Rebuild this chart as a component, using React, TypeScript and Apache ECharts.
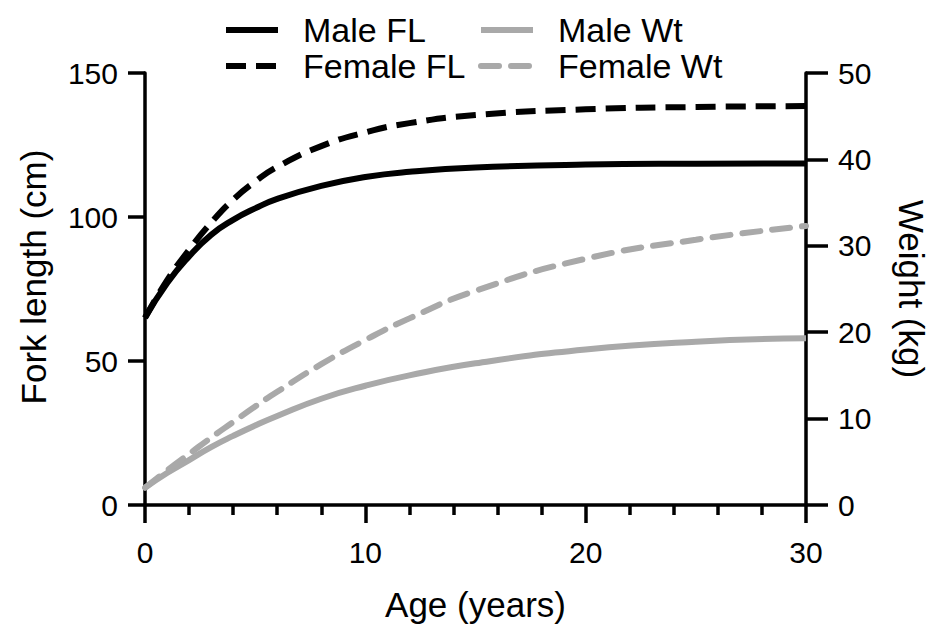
import React, { useEffect, useRef } from "react";
import * as echarts from "echarts";

const ages = [0, 1, 2, 3, 4, 5, 6, 8, 10, 12, 15, 20, 25, 30];
const maleFL = [65, 77, 86.3, 93.8, 99, 103, 106.3, 110.8, 113.9, 115.7, 117.2, 118.2, 118.5, 118.6];
const femaleFL = [65, 78, 88.6, 98, 106, 112.3, 117.4, 124.6, 129.4, 132.6, 135.4, 137.4, 138.2, 138.5];
const maleWt = [2.0, 3.7, 5.2, 6.7, 8.0, 9.2, 10.3, 12.3, 13.8, 15.0, 16.4, 18.0, 18.9, 19.3];
const femaleWt = [2.0, 4.0, 5.9, 7.8, 9.6, 11.4, 13.1, 16.3, 19.1, 21.6, 24.8, 28.5, 30.7, 32.3];

const FONT = "'Liberation Sans', Arial, sans-serif";
const BLACK = "#000000";
const GREY = "#a9a9a9";

const pairs = (ys: number[]) => ages.map((a, i) => [a, ys[i]]);

export default function App() {
  const ref = useRef<HTMLDivElement>(null);
  useEffect(() => {
    if (!ref.current) return;
    const chart = echarts.init(ref.current, undefined, { renderer: "svg" });
    const axisLine = { show: true, onZero: false, lineStyle: { color: BLACK, width: 3.5 } };
    const legendText = { fontFamily: FONT, fontSize: 34, color: BLACK, lineHeight: 36, padding: [0, 0, 0, 20] };
    const legendBase = {
      orient: "vertical",
      top: 12,
      padding: 0,
      itemGap: 0,
      itemWidth: 52,
      itemHeight: 14,
      textStyle: legendText,
      lineStyle: { width: 6 },
      itemStyle: { opacity: 0, color: "transparent", borderWidth: 0, borderColor: "transparent" },
    };
    chart.setOption({
      animation: false,
      backgroundColor: "#ffffff",
      textStyle: { fontFamily: FONT },
      grid: { left: 145, right: 134, top: 73, bottom: 114, containLabel: false },
      legend: [
        { ...legendBase, data: ["Male FL", "Female FL"], left: 223 },
        { ...legendBase, data: ["Male Wt", "Female Wt"], left: 478 },
      ],
      xAxis: {
        type: "value",
        min: 0,
        max: 30,
        interval: 10,
        name: "Age (years)",
        nameLocation: "middle",
        nameGap: 82,
        nameTextStyle: { fontFamily: FONT, fontSize: 35, color: BLACK },
        axisLine,
        axisTick: { show: true, length: 18, lineStyle: { color: BLACK, width: 3.5 } },
        minorTick: { show: true, splitNumber: 5, length: 10, lineStyle: { color: BLACK, width: 3.5 } },
        axisLabel: { fontFamily: FONT, fontSize: 30, color: BLACK, margin: 32 },
        splitLine: { show: false },
        minorSplitLine: { show: false },
      },
      yAxis: [
        {
          type: "value",
          position: "left",
          min: 0,
          max: 150,
          interval: 50,
          name: "Fork length (cm)",
          nameLocation: "middle",
          nameGap: 94,
          nameRotate: 90,
          nameTextStyle: { fontFamily: FONT, fontSize: 35, color: BLACK, padding: [0, 0, 0, 24] },
          axisLine,
          axisTick: { show: true, length: 17, lineStyle: { color: BLACK, width: 3.5 } },
          axisLabel: { fontFamily: FONT, fontSize: 30, color: BLACK, margin: 27 },
          splitLine: { show: false },
        },
        {
          type: "value",
          position: "right",
          min: 0,
          max: 50,
          interval: 10,
          name: "Weight (kg)",
          nameLocation: "middle",
          nameGap: 88,
          nameRotate: -90,
          nameTextStyle: { fontFamily: FONT, fontSize: 35, color: BLACK },
          axisLine,
          axisTick: { show: true, length: 22, lineStyle: { color: BLACK, width: 3.5 } },
          axisLabel: { fontFamily: FONT, fontSize: 30, color: BLACK, margin: 32 },
          splitLine: { show: false },
        },
      ],
      series: [
        {
          name: "Male FL",
          type: "line",
          yAxisIndex: 0,
          data: pairs(maleFL),
          symbol: "none",
          smooth: 0.5,
          lineStyle: { color: BLACK, width: 6 },
          itemStyle: { color: BLACK },
          z: 3,
        },
        {
          name: "Female FL",
          type: "line",
          yAxisIndex: 0,
          data: pairs(femaleFL),
          symbol: "none",
          smooth: 0.5,
          lineStyle: { color: BLACK, width: 6, type: [20, 10] },
          itemStyle: { color: BLACK },
          z: 3,
        },
        {
          name: "Male Wt",
          type: "line",
          yAxisIndex: 1,
          data: pairs(maleWt),
          symbol: "none",
          smooth: 0.5,
          lineStyle: { color: GREY, width: 6 },
          itemStyle: { color: GREY },
          z: 2,
        },
        {
          name: "Female Wt",
          type: "line",
          yAxisIndex: 1,
          data: pairs(femaleWt),
          symbol: "none",
          smooth: 0.5,
          lineStyle: { color: GREY, width: 6, type: [18, 12], cap: "round" },
          itemStyle: { color: GREY },
          z: 2,
        },
      ],
    });
    return () => chart.dispose();
  }, []);
  return (
    <div
      ref={ref}
      style={{ position: "fixed", left: 0, top: 0, width: 940, height: 627, background: "#fff" }}
    />
  );
}
